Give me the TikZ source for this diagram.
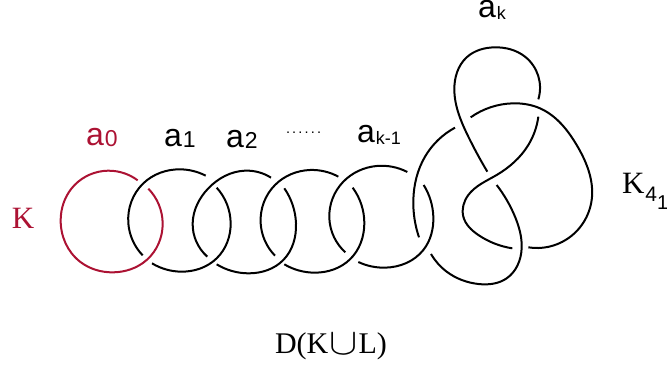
\documentclass[tikz,border=0pt]{standalone}
\usepackage{fontspec}
\usetikzlibrary{hobby}
\setmainfont{Liberation Sans}
\newfontfamily\timesf{Liberation Serif}
\definecolor{knotred}{HTML}{AC1233}
\newcommand{\asub}[3]{{\fontsize{32}{32}\selectfont a}\kern 1pt\raisebox{#3}{\fontsize{#1}{#1}\selectfont #2}}
\tikzset{
  strand/.style={line width=2pt,black,use Hobby shortcut},
  redstrand/.style={line width=2pt,knotred,use Hobby shortcut},
  txt/.style={anchor=base west,inner sep=0pt,outer sep=0pt},
  zthree/.style={x=0.33333pt,y=-0.33333pt},
}
\begin{document}
\begin{tikzpicture}[x=1pt,y=-1pt]
\useasboundingbox (0,0) rectangle (667,366);
\fill[white] (0,0) rectangle (667,366);
% left part (zoom 2 coordinates)
\begin{scope}[zthree,shift={(0pt,-110pt)}]
\draw[redstrand] (413,211) .. (310,183) .. (215,235) .. (182,330) .. (240,455) .. (340,487) .. (440,450) .. (488,340) .. (445,236);
\draw[strand] (617,197) .. (540,178) .. (430,220) .. (385,340) .. (428,436);
\draw[strand] (456,460) .. (545,485) .. (650,445) .. (692,340) .. (650,233);
\draw[strand] (813,203) .. (735,182) .. (625,235) .. (578,340) .. (622,440);
\end{scope}
% middle part (zoom 3 coordinates)
\begin{scope}[zthree,shift={(220pt,-110pt)}]
\draw[strand] (-10,463) .. (85,490) .. (190,450) .. (228,340) .. (193,235);
\draw[strand] (355,200) .. (270,180) .. (165,225) .. (122,340) .. (165,437);
\draw[strand] (193,463) .. (285,488) .. (390,448) .. (433,340) .. (398,233);
\draw[strand] (562,186) .. (470,168) .. (370,215) .. (328,325) .. (376,427);
\draw[strand] (415,456) .. (495,473) .. (610,420) .. (640,320) .. (611,225);
\end{scope}
% figure-eight part (zoom 1 coordinates)
\begin{scope}[zthree,shift={(400pt,0pt)}]
\draw[strand] (165,383) .. (75,470) .. (40,600) .. (57,712);
\draw[strand] (93,762) .. (140,815) .. (235,852) .. (320,835) .. (365,745) .. (345,650) .. (290,555);
\draw[strand] (262,515) .. (205,410) .. (163,270) .. (200,172) .. (285,142) .. (375,170) .. (415,298);
\draw[strand] (415,350) .. (385,435) .. (290,525) .. (205,585) .. (190,650) .. (235,705) .. (337,745);
\draw[strand] (385,742) .. (500,718) .. (575,600) .. (530,435) .. (420,325) .. (340,310) .. (212,352);
\end{scope}
% labels
\node[txt,text=knotred] (lK) at (12,229) {\timesf\fontsize{31}{31}\selectfont K};
\node[txt,text=knotred] (la0) at (86,146) {\asub{23}{0}{-1pt}};
\node[txt] (la1) at (164,147) {\asub{23}{1}{-1pt}};
\node[txt] (la2) at (226,148) {\asub{23}{2}{-1pt}};
\node[txt] (ldots) at (286,134) {\fontsize{14.5}{14.5}\selectfont .\kern2.2pt.\kern2.2pt.\kern2.2pt.\kern2.2pt.\kern2.2pt.};
\node[txt] (lak1) at (357,143) {\asub{18}{k-1}{-2pt}};
\node[txt] (lak) at (478,18) {\asub{18}{k}{-2pt}};
\node[txt] (lK41) at (622,194) {\timesf\fontsize{31}{31}\selectfont K\kern 1pt\raisebox{-8pt}{\normalfont\fontsize{21}{21}\selectfont 4}\raisebox{-16pt}{\normalfont\fontsize{20}{20}\selectfont 1}};
\node[txt] (lD) at (275,353) {\timesf\fontsize{30}{30}\selectfont D(K\kern 1pt\raisebox{-1.5pt}{\scalebox{1.7}[1.5]{$\cup$}}\kern 1pt L)};
\end{tikzpicture}
\end{document}
